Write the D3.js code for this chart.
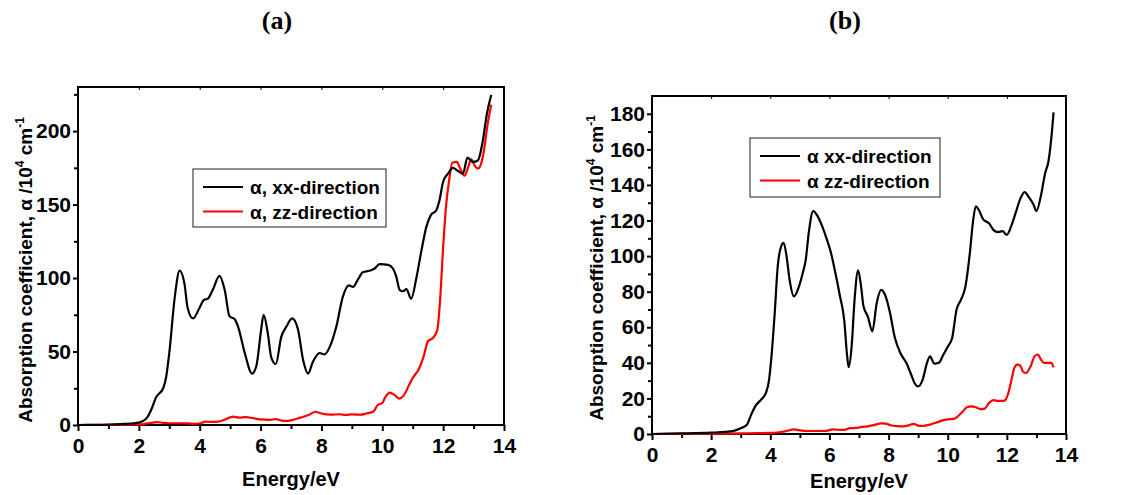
<!DOCTYPE html>
<html>
<head>
<meta charset="utf-8">
<script src="https://cdn.jsdelivr.net/npm/d3@7"></script>
<style>
body{margin:0;background:#fff;}
text{font-family:"Liberation Sans",Arial,sans-serif;font-weight:bold;}
</style>
</head>
<body>
<svg id="chart" width="1126" height="495"></svg>
<script>
// panel (a) - [energy eV, alpha]
const xxA = [[0,0],[0.5,0.1],[1,0.3],[1.5,0.7],[2,1.6],[2.25,4.5],[2.4,10],[2.57,19],[2.8,25],[2.9,33],[3.0,49],[3.18,87],[3.34,105],[3.5,96],[3.6,80],[3.78,72.5],[4.0,80],[4.13,85],[4.27,86],[4.43,92],[4.65,101.5],[4.82,92],[4.98,74],[5.15,72],[5.26,67],[5.48,49],[5.72,35],[5.86,40],[6.02,65],[6.1,75],[6.24,62],[6.35,46],[6.5,41.5],[6.68,60],[6.85,67],[7.04,72.5],[7.23,65],[7.4,44],[7.56,35],[7.72,43],[7.94,49],[8.1,48],[8.27,53],[8.49,67],[8.7,87],[8.9,95],[9.04,94],[9.2,99],[9.36,104],[9.58,105],[9.75,106.5],[9.91,109.5],[10.19,109],[10.35,106.5],[10.46,101],[10.57,92],[10.68,91],[10.79,92.5],[10.95,86],[11.12,100],[11.28,118],[11.45,135],[11.6,143],[11.77,146],[11.88,153],[12.0,165.5],[12.16,171],[12.32,175],[12.48,173],[12.65,171],[12.8,182],[12.98,179],[13.14,180],[13.3,193],[13.44,212],[13.58,224.5]];
const zzA = [[0,0],[1,0.1],[2,0.4],[2.2,0.8],[2.4,1.5],[2.6,2],[2.8,1.5],[3.0,1.2],[3.3,1.2],[3.6,1.1],[3.8,0.8],[4.0,1],[4.2,2.3],[4.4,2.1],[4.6,2.3],[4.8,3.5],[5.0,5.2],[5.1,5.7],[5.3,5],[5.5,5.3],[5.8,4.5],[6.0,3.8],[6.3,3.5],[6.5,4],[6.65,3.2],[6.8,2.8],[7.0,3.2],[7.3,5],[7.6,7],[7.8,9],[8.0,7.8],[8.3,7],[8.6,7.3],[8.8,6.8],[9.0,7.2],[9.3,7],[9.5,8],[9.7,9],[9.85,13.6],[10.0,15],[10.1,19],[10.25,22],[10.4,20.5],[10.55,18],[10.7,20],[10.9,28],[11.0,32],[11.2,38],[11.35,46],[11.5,57],[11.65,59],[11.8,64],[11.9,85],[12.0,121],[12.1,150],[12.2,167],[12.3,178.5],[12.45,179],[12.55,175],[12.7,169.6],[12.8,174],[12.92,180.7],[13.05,176],[13.15,174.5],[13.25,178],[13.35,188],[13.45,203],[13.58,218]];

// panel (b)
const xxB = [[0,0],[1,0.3],[2,0.75],[2.5,1.2],[2.8,1.9],[3.0,3.2],[3.2,5],[3.35,10.7],[3.5,15.8],[3.7,19.5],[3.85,23],[3.95,29.5],[4.05,45.5],[4.15,68],[4.25,94],[4.37,105.6],[4.45,107.5],[4.55,100],[4.65,87],[4.8,77.4],[4.95,82],[5.1,90.6],[5.2,98],[5.3,113],[5.45,125.3],[5.6,122.5],[5.75,117],[5.9,110],[6.05,102],[6.2,90.6],[6.35,78],[6.5,64],[6.6,43.6],[6.65,37.6],[6.75,49],[6.85,75.5],[6.97,92],[7.07,83],[7.15,72],[7.3,66],[7.45,57.7],[7.6,73.7],[7.75,81],[7.9,77.4],[8.05,68],[8.2,55],[8.4,45.5],[8.6,40],[8.75,34],[8.9,28],[9.0,26.7],[9.15,30.4],[9.3,40],[9.4,43.6],[9.55,39.5],[9.7,40],[9.85,44.5],[10.0,49],[10.15,54],[10.3,70],[10.45,75.5],[10.6,83],[10.75,102],[10.85,118.7],[10.95,128],[11.05,126],[11.2,120.6],[11.4,118.4],[11.55,114.6],[11.7,113.5],[11.85,114],[12.0,112],[12.15,117],[12.3,124.4],[12.45,132],[12.6,136],[12.75,133],[12.9,129],[13.0,125.3],[13.15,133.8],[13.3,147],[13.4,152.6],[13.5,165.7],[13.58,180.8]];
const zzB = [[0,0],[1,0.1],[2,0.2],[3,0.3],[3.5,0.5],[4.0,0.6],[4.3,1],[4.5,1.5],[4.8,2.6],[5.0,2],[5.3,1.7],[5.6,1.7],[5.9,1.8],[6.1,2.6],[6.3,2.4],[6.5,2.3],[6.7,3.3],[6.9,3.4],[7.1,4],[7.3,4.3],[7.5,5],[7.75,6],[7.9,5.8],[8.1,4.8],[8.3,4.4],[8.5,4.3],[8.7,5],[8.85,5.7],[9.0,4.7],[9.15,4.5],[9.4,5.3],[9.6,6.3],[9.8,7.5],[10.0,8.2],[10.2,8.5],[10.35,10],[10.5,12.5],[10.65,15],[10.8,15.5],[10.95,15],[11.1,14],[11.25,14.3],[11.4,17.5],[11.55,19],[11.7,18.6],[11.9,18.6],[12.05,23],[12.15,30],[12.25,37],[12.35,39],[12.45,38.5],[12.55,35],[12.65,34.3],[12.8,38],[12.95,44],[13.05,44.7],[13.15,42],[13.25,40],[13.35,40],[13.5,40],[13.58,37.5]];

const xTicks = [0,2,4,6,8,10,12,14];
const yTicksA = [0,50,100,150,200];
const yTicksB = [0,20,40,60,80,100,120,140,160,180];
const legendA = ["α, xx-direction","α, zz-direction"];
const legendB = ["α xx-direction","α zz-direction"];

const svg = d3.select("#chart");

function drawPanel(p){
    const g = svg.append("g");
    const x = d3.scaleLinear().domain([0,14]).range([p.left,p.right]);
    const y = d3.scaleLinear().domain([0,p.ymax]).range([p.bottom,p.top]);

    // frame
    g.append("rect").attr("x",p.left).attr("y",p.top)
        .attr("width",p.right-p.left).attr("height",p.bottom-p.top)
        .attr("fill","none").attr("stroke","#000").attr("stroke-width",2);

    // bottom axis, major + minor
    const xMinor = d3.range(1,14,2);
    g.append("g").attr("transform","translate(0,"+p.bottom+")")
        .call(d3.axisBottom(x).tickValues(xMinor).tickSize(4).tickFormat(""))
        .call(a=>a.select(".domain").remove())
        .selectAll("line").attr("stroke-width",2);
    const xa = g.append("g").attr("transform","translate(0,"+p.bottom+")")
        .call(d3.axisBottom(x).tickValues(xTicks).tickSize(6).tickPadding(7));
    xa.select(".domain").remove();
    xa.selectAll("line").attr("stroke-width",2);
    xa.selectAll("text").attr("font-size",21).attr("fill","#000");

    // left axis
    g.append("g").attr("transform","translate("+p.left+",0)")
        .call(d3.axisLeft(y).tickValues(p.yMinor).tickSize(4).tickFormat(""))
        .call(a=>a.select(".domain").remove())
        .selectAll("line").attr("stroke-width",2);
    const ya = g.append("g").attr("transform","translate("+p.left+",0)")
        .call(d3.axisLeft(y).tickValues(p.yTicks).tickSize(5).tickPadding(2));
    ya.select(".domain").remove();
    ya.selectAll("line").attr("stroke-width",2);
    ya.selectAll("text").attr("font-size",21).attr("fill","#000");

    // small inward ticks on top edge
    g.append("g").attr("transform","translate(0,"+p.top+")")
        .call(d3.axisBottom(x).tickValues(xTicks.slice(1,-1)).tickSize(3).tickFormat(""))
        .call(a=>a.select(".domain").remove())
        .selectAll("line").attr("stroke-width",1);

    const line = d3.line().x(d=>x(d[0])).y(d=>y(d[1])).curve(d3.curveMonotoneX);
    g.append("path").datum(p.zz).attr("d",line).attr("fill","none")
        .attr("stroke","#ff0000").attr("stroke-width",2.2);
    g.append("path").datum(p.xx).attr("d",line).attr("fill","none")
        .attr("stroke","#000").attr("stroke-width",2.2);

    // legend
    const lg = g.append("g");
    lg.append("rect").attr("x",p.leg[0]).attr("y",p.leg[1]).attr("width",p.leg[2]).attr("height",p.leg[3])
        .attr("fill","#fff").attr("stroke","#444").attr("stroke-width",1.2);
    ["#000","#ff0000"].forEach((c,i)=>{
        const ly = p.leg[1]+18+i*24.5;
        lg.append("line").attr("x1",p.leg[0]+10).attr("x2",p.leg[0]+50)
            .attr("y1",ly).attr("y2",ly).attr("stroke",c).attr("stroke-width",2.2);
        lg.append("text").attr("x",p.leg[0]+57).attr("y",ly+7)
            .attr("font-size",19).text(p.legend[i]);
    });

    // axis titles
    g.append("text").attr("x",(p.left+p.right)/2).attr("y",p.xlabY)
        .attr("text-anchor","middle").attr("font-size",20).text("Energy/eV");
    const yt = g.append("text").attr("text-anchor","middle").attr("font-size",19)
        .attr("transform","translate("+p.ylabX+","+p.ylabY+") rotate(-90)");
    yt.append("tspan").text("Absorption coefficient, α /10");
    yt.append("tspan").attr("dy",-8).attr("font-size",12).text("4");
    yt.append("tspan").attr("dy",8).text(" cm");
    yt.append("tspan").attr("dy",-8).attr("font-size",12).text("-1");

    svg.append("text").attr("x",p.titleX).attr("y",29).attr("text-anchor","middle")
        .style("font-family","'Liberation Serif','Times New Roman',serif")
        .attr("font-size",26).text(p.title);
}

drawPanel({left:78,right:504,top:87,bottom:425,ymax:230,yTicks:yTicksA,yMinor:d3.range(25,230,50),
    xx:xxA,zz:zzA,leg:[193,169,193,58],legend:legendA,ylabX:32,ylabY:270,xlabY:486,titleX:277,title:"(a)"});
drawPanel({left:652,right:1066,top:96,bottom:434,ymax:190,yTicks:yTicksB,yMinor:d3.range(10,190,20),
    xx:xxB,zz:zzB,leg:[750,138,190,59],legend:legendB,ylabX:603,ylabY:268,xlabY:488,titleX:845,title:"(b)"});
</script>
</body>
</html>
